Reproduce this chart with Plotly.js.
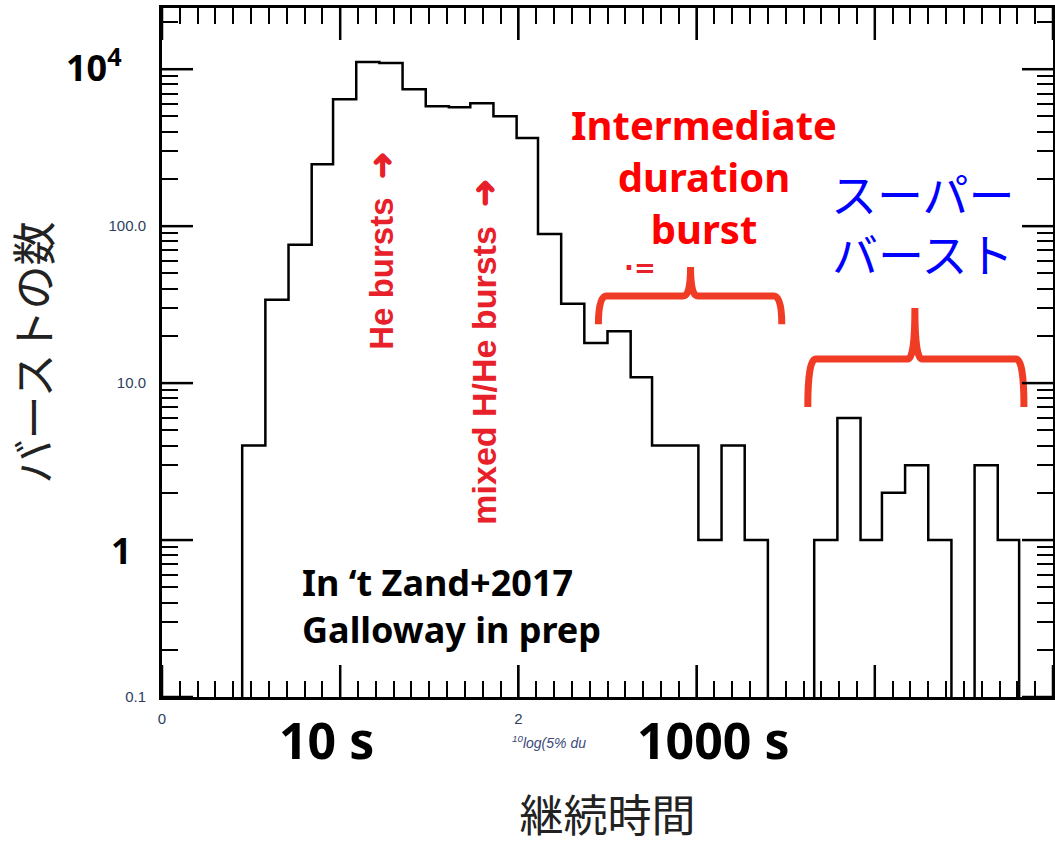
<!DOCTYPE html>
<html>
<head>
<meta charset="utf-8">
<script src="https://cdn.plot.ly/plotly-3.0.1.min.js"></script>
<style>html,body{margin:0;padding:0;background:#fff;}#chart{width:1055px;height:845px;}</style>
</head>
<body>
<div id="chart"></div>
<script>
// Bin edges in log10(duration) units
const binEdges = [0.45, 0.58, 0.71, 0.84, 0.96, 1.09, 1.22, 1.35, 1.48, 1.61, 1.73, 1.86, 1.99, 2.11, 2.24, 2.37, 2.50, 2.63, 2.75, 2.88, 3.01, 3.14, 3.27, 3.40, 3.53, 3.66, 3.79, 3.92, 4.04, 4.17, 4.30, 4.43, 4.56, 4.69, 4.81];
// Burst counts per bin (0 = empty bin)
const binCounts = [4, 34, 76, 248, 644, 1110, 1095, 746, 580, 573, 607, 502, 364, 89, 32, 18, 21.4, 10.9, 4, 4, 1, 4, 1, 0, 0, 1, 6, 1, 2, 3, 1, 0, 3, 1];
// Tick labels
const yTickVals = [0.1, 1, 10, 100, 1000];
const yTickText = ['0.1', '', '10.0', '100.0', ''];
const xTickVals = [0, 1, 2, 3, 4, 5];
const xTickText = ['0', '', '2', '', '', '5'];

const X_RANGE = [0, 5];
const Y_RANGE = [-1, 3.39];
const PLOT_W = 891, PLOT_H = 689;

const FLOOR = 0.01; // empty bins are drawn below the axis
const xs = [binEdges[0]];
const ys = [FLOOR];
for (let i = 0; i < binCounts.length; i++) {
  xs.push(binEdges[i]);
  ys.push(binCounts[i] > 0 ? binCounts[i] : FLOOR);
}
xs.push(binEdges[binEdges.length - 1]);
ys.push(FLOOR);

const trace = {
  x: xs, y: ys, type: 'scatter', mode: 'lines',
  line: {shape: 'hv', color: '#000', width: 2.5},
  hoverinfo: 'skip', showlegend: false
};

function brace(x0, x1, xm, yL, yEnd, yPeak) {
  const r = 0.045, r2 = 0.04;
  return 'M ' + x0 + ',' + yEnd +
    ' Q ' + x0 + ',' + yL + ' ' + (x0 + r) + ',' + yL +
    ' L ' + (xm - r2) + ',' + yL +
    ' Q ' + xm + ',' + yL + ' ' + xm + ',' + yPeak +
    ' Q ' + xm + ',' + yL + ' ' + (xm + r2) + ',' + yL +
    ' L ' + (x1 - r) + ',' + yL +
    ' Q ' + x1 + ',' + yL + ' ' + x1 + ',' + yEnd;
}
const braceColor = '#f03c24';

// long major ticks on all four sides (the axis suppresses its own major ticks when minor ticks are on)
const majorTickShapes = [];
const xLen = 32 / PLOT_H, yLen = 31 / PLOT_W;
xTickVals.forEach(v => {
  const px = (v - X_RANGE[0]) / (X_RANGE[1] - X_RANGE[0]);
  majorTickShapes.push({type: 'line', xref: 'paper', yref: 'paper', x0: px, x1: px, y0: 0, y1: xLen, line: {color: '#000', width: 2.5}});
  majorTickShapes.push({type: 'line', xref: 'paper', yref: 'paper', x0: px, x1: px, y0: 1 - xLen, y1: 1, line: {color: '#000', width: 2.5}});
});
yTickVals.forEach(v => {
  const py = (Math.log10(v) - Y_RANGE[0]) / (Y_RANGE[1] - Y_RANGE[0]);
  majorTickShapes.push({type: 'line', xref: 'paper', yref: 'paper', x0: 0, x1: yLen, y0: py, y1: py, line: {color: '#000', width: 2.5}});
  majorTickShapes.push({type: 'line', xref: 'paper', yref: 'paper', x0: 1 - yLen, x1: 1, y0: py, y1: py, line: {color: '#000', width: 2.5}});
});

const axisCommon = {
  showgrid: false, zeroline: false,
  showline: true, linecolor: '#000', linewidth: 3, mirror: 'allticks',
  ticks: 'inside', tickcolor: '#000', tickwidth: 2,
  tickfont: {family: 'Liberation Sans, Arial, sans-serif', size: 15, color: '#2e3e5e'}
};

const layout = {
  width: 1055, height: 845,
  margin: {l: 162, r: 2, t: 8, b: 148},
  paper_bgcolor: '#fff', plot_bgcolor: '#fff',
  showlegend: false,
  xaxis: Object.assign({}, axisCommon, {
    range: X_RANGE, tickmode: 'array', tickvals: xTickVals, ticktext: xTickText,
    ticklen: 32, ticklabelstandoff: 6,
    minor: {dtick: 0.1, ticks: 'inside', ticklen: 16, tickwidth: 2, tickcolor: '#000', showgrid: false},
    title: {text: '継続時間', standoff: 84,
      font: {family: 'Noto Sans CJK JP, sans-serif', size: 44, color: '#222'}}
  }),
  yaxis: Object.assign({}, axisCommon, {
    type: 'log', range: Y_RANGE, tickmode: 'array', tickvals: yTickVals, ticktext: yTickText,
    ticklen: 31, ticklabelstandoff: 10,
    minor: {dtick: 'D1', ticks: 'inside', ticklen: 16, tickwidth: 2, tickcolor: '#000', showgrid: false},
    title: {text: 'バーストの数', standoff: 55,
      font: {family: 'Noto Sans CJK JP, sans-serif', size: 44, color: '#222'}}
  }),
  shapes: [
    {type: 'path', xref: 'x', yref: 'paper', path: brace(2.449, 3.478, 2.966, 0.582, 0.541, 0.624),
      line: {color: braceColor, width: 7}},
    {type: 'path', xref: 'x', yref: 'paper', path: brace(3.624, 4.837, 4.225, 0.4906, 0.421, 0.5646),
      line: {color: braceColor, width: 7}}
  ].concat(majorTickShapes),
  annotations: [
    {x: 1.23, y: 0.5007, xref: 'x', yref: 'paper', yanchor: 'bottom', xanchor: 'center', textangle: -90,
      text: 'He bursts  ➜', showarrow: false,
      font: {family: 'Liberation Sans, Arial, sans-serif', size: 33, color: '#e8202a', weight: 'bold'}},
    {x: 1.809, y: 0.247, xref: 'x', yref: 'paper', yanchor: 'bottom', xanchor: 'center', textangle: -90,
      text: 'mixed H/He bursts  ➜', showarrow: false,
      font: {family: 'Liberation Sans, Arial, sans-serif', size: 34, color: '#e8202a', weight: 'bold'}},
    {x: 3.039, y: 0.756, xref: 'x', yref: 'paper', xanchor: 'center', yanchor: 'middle',
      text: 'Intermediate<br>duration<br>burst', showarrow: false,
      font: {family: 'Noto Sans, sans-serif', size: 40, color: '#ff0000', weight: 'bold'}},
    {x: 2.685, y: 0.6226, xref: 'x', yref: 'paper', xanchor: 'center', yanchor: 'middle',
      text: '·=', showarrow: false,
      font: {family: 'DejaVu Sans, sans-serif', size: 26, color: '#e8202a', weight: 'bold'}},
    {x: 4.27, y: 0.689, xref: 'x', yref: 'paper', xanchor: 'center', yanchor: 'middle',
      text: 'スーパー<br>バースト', showarrow: false,
      font: {family: 'Noto Sans CJK JP, sans-serif', size: 46, color: '#0000ff'}},
    {x: 0.775, y: 0.132, xref: 'x', yref: 'paper', xanchor: 'left', yanchor: 'middle', align: 'left',
      text: 'In ‘t Zand+2017<br>Galloway in prep', showarrow: false,
      font: {family: 'Noto Sans, sans-serif', size: 36, color: '#000', weight: 'bold'}},
    {x: 1, y: -0.0625, xref: 'x', yref: 'paper', xanchor: 'center', yanchor: 'middle', xshift: -14,
      text: '10 s', showarrow: false,
      font: {family: 'Noto Sans, sans-serif', size: 50, color: '#000', weight: 'bold'}},
    {x: 3, y: -0.0625, xref: 'x', yref: 'paper', xanchor: 'center', yanchor: 'middle', xshift: 17,
      text: '1000 s', showarrow: false,
      font: {family: 'Noto Sans, sans-serif', size: 50, color: '#000', weight: 'bold'}},
    {x: 2.169, y: -0.0653, xref: 'x', yref: 'paper', xanchor: 'center', yanchor: 'middle',
      text: '<sup>10</sup>log(5% du', showarrow: false,
      font: {family: 'Liberation Sans, Arial, sans-serif', size: 14, color: '#3a4a7a', style: 'italic'}},
    {x: 0, y: Math.log10(1000), xref: 'paper', yref: 'y', xanchor: 'right', yanchor: 'middle', xshift: -38, yshift: 4,
      text: '10<sup>4</sup>', showarrow: false,
      font: {family: 'Noto Sans, sans-serif', size: 36, color: '#000', weight: 'bold'}},
    {x: 0, y: Math.log10(1), xref: 'paper', yref: 'y', xanchor: 'right', yanchor: 'middle', xshift: -28, yshift: -10,
      text: '1', showarrow: false,
      font: {family: 'Noto Sans, sans-serif', size: 36, color: '#000', weight: 'bold'}}
  ]
};

Plotly.newPlot('chart', [trace], layout, {staticPlot: true, displayModeBar: false});
</script>
</body>
</html>
